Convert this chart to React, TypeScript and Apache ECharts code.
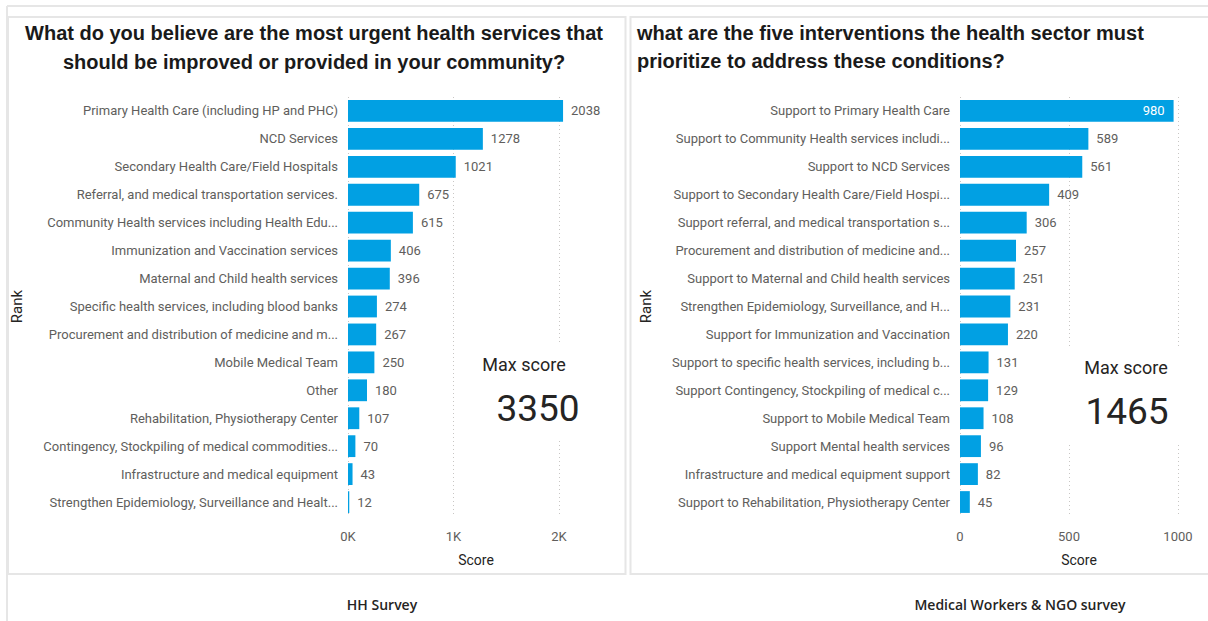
import React, { useEffect, useRef } from "react";
import * as echarts from "echarts";

const leftCategories = [
  "Primary Health Care (including HP and PHC)",
  "NCD Services",
  "Secondary Health Care/Field Hospitals",
  "Referral, and medical transportation services.",
  "Community Health services including Health Edu...",
  "Immunization and Vaccination services",
  "Maternal and Child health services",
  "Specific health services, including blood banks",
  "Procurement and distribution of medicine and m...",
  "Mobile Medical Team",
  "Other",
  "Rehabilitation, Physiotherapy Center",
  "Contingency, Stockpiling of medical commodities...",
  "Infrastructure and medical equipment",
  "Strengthen Epidemiology, Surveillance and Healt...",
];
const leftValues = [2038, 1278, 1021, 675, 615, 406, 396, 274, 267, 250, 180, 107, 70, 43, 12];

const rightCategories = [
  "Support to Primary Health Care",
  "Support to Community Health services includi...",
  "Support to NCD Services",
  "Support to Secondary Health Care/Field Hospi...",
  "Support referral, and medical transportation s...",
  "Procurement and distribution of medicine and...",
  "Support to Maternal and Child health services",
  "Strengthen Epidemiology, Surveillance, and H...",
  "Support for Immunization and Vaccination",
  "Support to specific health services, including b...",
  "Support Contingency, Stockpiling of medical c...",
  "Support to Mobile Medical Team",
  "Support Mental health services",
  "Infrastructure and medical equipment support",
  "Support to Rehabilitation, Physiotherapy Center",
];
const rightValues = [980, 589, 561, 409, 306, 257, 251, 231, 220, 131, 129, 108, 96, 82, 45];

const leftTitle = "What do you believe are the most urgent health services that\nshould be improved or provided in your community?";
const rightTitle = "what are the five interventions the health sector must\nprioritize to address these conditions?";
const leftFooter = "HH Survey";
const rightFooter = "Medical Workers & NGO survey";
const leftMaxScore = 3350;
const rightMaxScore = 1465;

const BAR = "#01A0E3";
const GRAY = "#605E5C";
const DARK = "#252423";
const BORDER = "#E6E6E6";
const FONT = "Roboto, 'Open Sans', sans-serif";

export default function App() {
  const ref = useRef<HTMLDivElement>(null);
  useEffect(() => {
    if (!ref.current) return;
    const chart = echarts.init(ref.current, undefined, { renderer: "svg" });
    const catAxis = (cats: string[], gridIndex: number, gap: number) => ({
      type: "category",
      gridIndex,
      data: cats,
      inverse: true,
      axisLine: { show: false },
      axisTick: { show: false },
      axisLabel: { color: GRAY, fontSize: 13, fontFamily: FONT, margin: 10 },
      name: "Rank",
      nameLocation: "middle",
      nameRotate: 90,
      nameGap: gap,
      nameTextStyle: { color: DARK, fontSize: 15, fontFamily: FONT },
    });
    const valAxis = (gridIndex: number, max: number, interval: number, fmt: (v: number) => string) => ({
      type: "value",
      gridIndex,
      min: 0,
      max,
      interval,
      axisLine: { show: false },
      axisTick: { show: false },
      axisLabel: { color: GRAY, fontSize: 13, fontFamily: FONT, margin: 14, showMaxLabel: false, formatter: fmt },
      splitLine: { show: true, showMaxLine: false, lineStyle: { color: "#C8C6C4", type: [1, 3], width: 1 } },
      name: "Score",
      nameLocation: "middle",
      nameGap: 37,
      nameTextStyle: { color: DARK, fontSize: 14, fontFamily: FONT },
    });
    const card = (x: number, y: number, w: number, h: number, labelX: number, valueX: number, value: number) => ({
      type: "group",
      z: 100,
      children: [
        { type: "rect", z: 100, shape: { x, y, width: w, height: h }, style: { fill: "#fff" } },
        {
          type: "text", z: 101, x: labelX, y: y + 19,
          style: { text: "Max score", fill: DARK, fontSize: 18, fontFamily: FONT, align: "center", verticalAlign: "middle" },
        },
        {
          type: "text", z: 101, x: valueX, y: y + 63,
          style: { text: String(value), fill: DARK, fontSize: 37, fontFamily: FONT, align: "center", verticalAlign: "middle" },
        },
      ],
    });
    const option = {
      animation: false,
      backgroundColor: "#fff",
      grid: [
        { left: 348, top: 97, width: 256, height: 419 },
        { left: 960, top: 97, width: 238, height: 419 },
      ],
      yAxis: [catAxis(leftCategories, 0, 324), catAxis(rightCategories, 1, 307)],
      xAxis: [
        valAxis(0, 2426, 1000, (v: number) => `${v / 1000}K`),
        valAxis(1, 1092, 500, (v: number) => `${v}`),
      ],
      series: [
        {
          type: "bar",
          xAxisIndex: 0,
          yAxisIndex: 0,
          data: leftValues,
          barCategoryGap: "22%",
          itemStyle: { color: BAR },
          label: { show: true, position: "right", distance: 8, color: GRAY, fontSize: 13, fontFamily: FONT },
        },
        {
          type: "bar",
          xAxisIndex: 1,
          yAxisIndex: 1,
          data: rightValues.map((v, i) =>
            i === 0
              ? { value: v, label: { position: "insideRight", color: "#fff", distance: 9 } }
              : v
          ),
          barCategoryGap: "22%",
          itemStyle: { color: BAR },
          label: { show: true, position: "right", distance: 8, color: GRAY, fontSize: 13, fontFamily: FONT },
        },
      ],
      graphic: [
        { type: "line", shape: { x1: 7, y1: 6, x2: 1208, y2: 6 }, style: { stroke: BORDER, lineWidth: 2 } },
        { type: "line", shape: { x1: 7, y1: 6, x2: 7, y2: 621 }, style: { stroke: BORDER, lineWidth: 2 } },
        { type: "rect", shape: { x: 8, y: 17, width: 617.5, height: 557 }, style: { fill: "none", stroke: BORDER, lineWidth: 2 } },
        { type: "rect", shape: { x: 630.5, y: 17, width: 590, height: 557 }, style: { fill: "none", stroke: BORDER, lineWidth: 2 } },
        {
          type: "text", x: 314, y: 18,
          style: { text: leftTitle, fill: "#1A1A1A", fontSize: 20, fontWeight: "bold", fontFamily: "'Liberation Sans', Arial, sans-serif", align: "center", verticalAlign: "top", lineHeight: 29 },
        },
        {
          type: "text", x: 637, y: 19,
          style: { text: rightTitle, fill: "#1A1A1A", fontSize: 20, fontWeight: "bold", fontFamily: "'Liberation Sans', Arial, sans-serif", align: "left", verticalAlign: "top", lineHeight: 28 },
        },
        card(470, 345, 128, 96, 524, 538, leftMaxScore),
        card(1060, 348, 140, 96, 1126, 1127, rightMaxScore),
        {
          type: "text", x: 382, y: 604,
          style: { text: leftFooter, fill: DARK, fontSize: 14, fontWeight: 600, fontFamily: "'Open Sans', sans-serif", align: "center", verticalAlign: "middle" },
        },
        {
          type: "text", x: 1020, y: 604,
          style: { text: rightFooter, fill: DARK, fontSize: 14, fontWeight: 600, fontFamily: "'Open Sans', sans-serif", align: "center", verticalAlign: "middle" },
        },
      ],
    };
    chart.setOption(option as any);
    return () => chart.dispose();
  }, []);
  return (
    <div
      ref={ref}
      style={{ position: "fixed", left: 0, top: 0, width: 1208, height: 621 }}
    />
  );
}
